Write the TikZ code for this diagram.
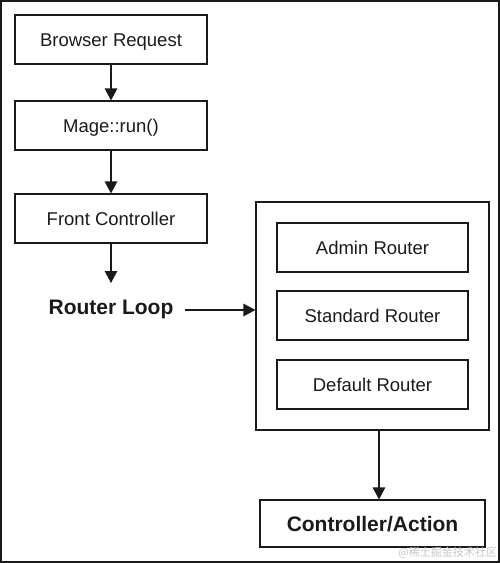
\documentclass[tikz,border=0pt]{standalone}
\usepackage{fontspec}
\setmainfont{Liberation Sans}
\newfontfamily\cjk{Noto Sans CJK SC}
\usetikzlibrary{arrows.meta}
\definecolor{ink}{HTML}{1A1A1A}
\begin{document}
\begin{tikzpicture}[x=1pt,y=-1pt,
  box/.style={draw=ink,line width=1.1pt,minimum width=#1,inner sep=0pt,font=\fontsize{18.5}{20}\selectfont,text=ink,text height=13.2pt,text depth=0pt},
  flow/.style={line width=1.2pt,draw=ink,-{Triangle[width=12.5pt,length=12pt]}},
  bold/.style={font=\fontsize{21}{23}\selectfont\bfseries,text=ink,text height=15pt,text depth=0pt}]
\useasboundingbox (0,0) rectangle (500,563);
\draw[line width=2pt,draw=ink] (1,1) rectangle (499,562);
% left column
\node[box=192pt,minimum height=49pt] (br) at (111,39.5) {Browser Request};
\node[box=192pt,minimum height=49pt] (mr) at (111,125.5) {Mage::run()};
\node[box=192pt,minimum height=49pt] (fc) at (111,218.5) {Front Controller};
\node[bold,inner sep=0pt] (rl) at (111,307) {Router Loop};
\coordinate (rlend) at (111,283);
\draw[flow] (br) -- (mr);
\draw[flow] (mr) -- (fc);
\draw[flow] (fc) -- (rlend);
% container
\node[draw=ink,line width=1.1pt,minimum width=233pt,minimum height=228pt,inner sep=0pt] (ct) at (372.5,316) {};
\node[box=191pt,minimum height=49pt] (ar) at (372.5,247.5) {Admin Router};
\node[box=191pt,minimum height=49pt] (sr) at (372.5,315.5) {Standard Router};
\node[box=191pt,minimum height=49pt] (dr) at (372.5,384.5) {Default Router};
\coordinate (rla) at (185,310);
\draw[flow] (rla) -- (rla -| ct.west);
% controller/action
\node[box=225pt,minimum height=47pt,bold] (ca) at (372.5,523.5) {Controller/Action};
\coordinate (down) at (379,0);
\draw[flow] (down |- ct.south) -- (down |- ca.north);
% watermark
\node[text=black!22,font=\cjk\fontsize{11}{12}\selectfont,anchor=east,inner sep=0pt] (wm) at (497,553) {@稀土掘金技术社区};
\end{tikzpicture}
\end{document}
